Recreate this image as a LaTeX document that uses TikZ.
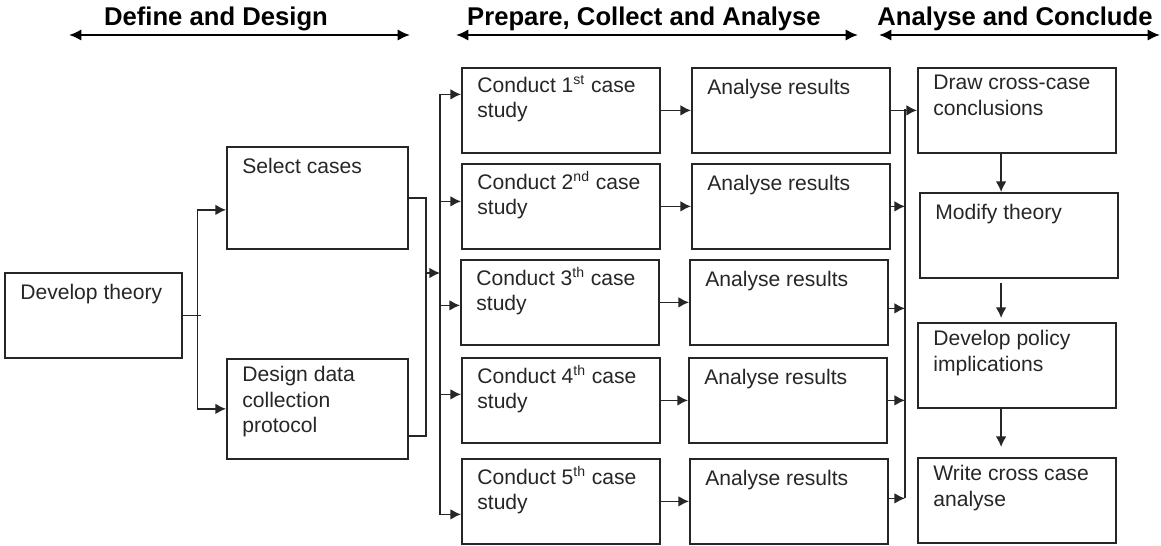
\documentclass[tikz,border=0pt]{standalone}
\usepackage{fontspec}
\setmainfont{Liberation Sans}
\usetikzlibrary{calc,arrows.meta}

\begin{document}
\begin{tikzpicture}[x=0.02cm, y=-0.02cm, >={Latex[length=6pt,width=6pt]},
    box/.style={draw=black!85, line width=1pt, inner sep=0pt, anchor=north west,
        minimum width=3.97cm, minimum height=1.7cm},
    txt/.style={anchor=north west, inner sep=0pt, xshift=0.32cm, yshift=-4.6pt,
        align=left, text=black!85, font=\fontsize{12}{14.5}\selectfont,
        execute at begin node={\rule{0pt}{11pt}}},
    head/.style={anchor=base, text=black, font=\fontsize{14.6}{17}\selectfont\bfseries},
    link/.style={draw=black!85, line width=0.8pt},
    span/.style={{Latex[length=7pt,width=6.5pt]}-{Latex[length=7pt,width=6.5pt]}, line width=1.3pt}]
    \useasboundingbox (0,0) rectangle (1161,545);
    % phase headings
    \node[head] (hdd) at (216,25) {Define and Design};
    \node[head] (hpca) at (644,25) {Prepare, Collect and Analyse};
    \node[head] (hac) at (1015,25) {Analyse and Conclude};
    \coordinate (hddw) at (69,35);   \coordinate (hdde) at (410,35);
    \coordinate (hpcaw) at (456,35); \coordinate (hpcae) at (858,35);
    \coordinate (hacw) at (879,35);  \coordinate (hace) at (1160,35);
    \draw[span] (hddw) -- (hdde);
    \draw[span] (hpcaw) -- (hpcae);
    \draw[span] (hacw) -- (hace);
    % define and design
    \node[box, minimum width=3.54cm, label={[txt]north west:Develop theory}] (dt) at (4,272) {};
    \node[box, minimum width=3.62cm, minimum height=2.04cm,
        label={[txt]north west:Select cases}] (sel) at (226,146) {};
    \node[box, minimum width=3.62cm, minimum height=2cm,
        label={[txt]north west:Design data\\collection\\protocol}] (ddc) at (226,358) {};
    % case studies
    \node[box, label={[txt]north west:Conduct 1\textsuperscript{st} case\\study}] (cs1) at (461,67) {};
    \node[box, label={[txt]north west:Conduct 2\textsuperscript{nd} case\\study}] (cs2) at (461,163) {};
    \node[box, label={[txt]north west:Conduct 3\textsuperscript{th} case\\study}] (cs3) at (460,259) {};
    \node[box, label={[txt]north west:Conduct 4\textsuperscript{th} case\\study}] (cs4) at (461,357) {};
    \node[box, label={[txt]north west:Conduct 5\textsuperscript{th} case\\study}] (cs5) at (461,458) {};
    % analyses
    \node[box, label={[txt]north west:Analyse results}] (ar1) at (691,67) {};
    \node[box, label={[txt]north west:Analyse results}] (ar2) at (691,163) {};
    \node[box, label={[txt]north west:Analyse results}] (ar3) at (689,259) {};
    \node[box, label={[txt]north west:Analyse results}] (ar4) at (688,357) {};
    \node[box, label={[txt]north west:Analyse results}] (ar5) at (689,458) {};
    % conclude
    \node[box, label={[txt]north west:Draw cross-case\\conclusions}] (dcc) at (917,67) {};
    \node[box, label={[txt]north west:Modify theory}] (mt) at (919,192) {};
    \node[box, label={[txt]north west:Develop policy\\implications}] (dpi) at (917,322) {};
    \node[box, label={[txt]north west:Write cross case\\analyse}] (wcc) at (917,457) {};
    % theory splits to cases and protocol
    \coordinate (jdt) at ($(dt.east)+(15,0)$);
    \draw[link] (dt.east) -- ++(18,0);
    \draw[link, ->] (jdt) |- ($(sel.west)+(0,12)$);
    \draw[link, ->] (jdt) |- (ddc.west);
    % cases and protocol join
    \coordinate (jsel) at (426,273);
    \coordinate (jcs) at (440,273);
    \draw[link] (sel.east) -| (jsel);
    \draw[link] ($(ddc.east)+(-2,27)$) -| (jsel);
    \draw[link, ->] (jsel) -- (jcs);
    % out to the case studies
    \draw[link, ->] (jcs) |- ($(cs1.west)+(0,-16)$);
    \draw[link, ->] (jcs) |- ($(cs2.west)+(0,-5)$);
    \draw[link, ->] (jcs) |- ($(cs3.west)+(0,3)$);
    \draw[link, ->] (jcs) |- ($(cs4.west)+(0,-6)$);
    \draw[link, ->] (jcs) |- ($(cs5.west)+(0,13)$);
    \draw[link, ->] (cs1) -- (ar1);
    \draw[link, ->] (cs2) -- (ar2);
    \draw[link, ->] (cs3) -- (ar3);
    \draw[link, ->] (cs4) -- (ar4);
    \draw[link, ->] (cs5) -- (ar5);
    % analyses join
    \coordinate (jar) at (905,109);
    \draw[link] (jar) -- ($(jar |- ar5.east)+(0,-3)$);
    \draw[link, ->] (ar1.east) -- (dcc.west);
    \draw[link, ->] (ar2.east) -- (ar2.east -| jar);
    \draw[link, ->] ($(ar3.east)+(0,6)$) -- ($(ar3.east -| jar)+(0,6)$);
    \draw[link, ->] (ar4.east) -- (ar4.east -| jar);
    \draw[link, ->] ($(ar5.east)+(0,-3)$) -- ($(ar5.east -| jar)+(0,-3)$);
    % conclusions chain
    \draw[link, ->] ($(dcc.south)+(-16,0)$) -- ($(mt.north)+(-18,0)$);
    \draw[link, ->] ($(mt.south)+(-18,4)$) -- ($(dpi.north)+(-16,-4)$);
    \draw[link, ->] ($(dpi.south)+(-16,0)$) -- ($(wcc.north)+(-16,-10)$);
\end{tikzpicture}
\end{document}
